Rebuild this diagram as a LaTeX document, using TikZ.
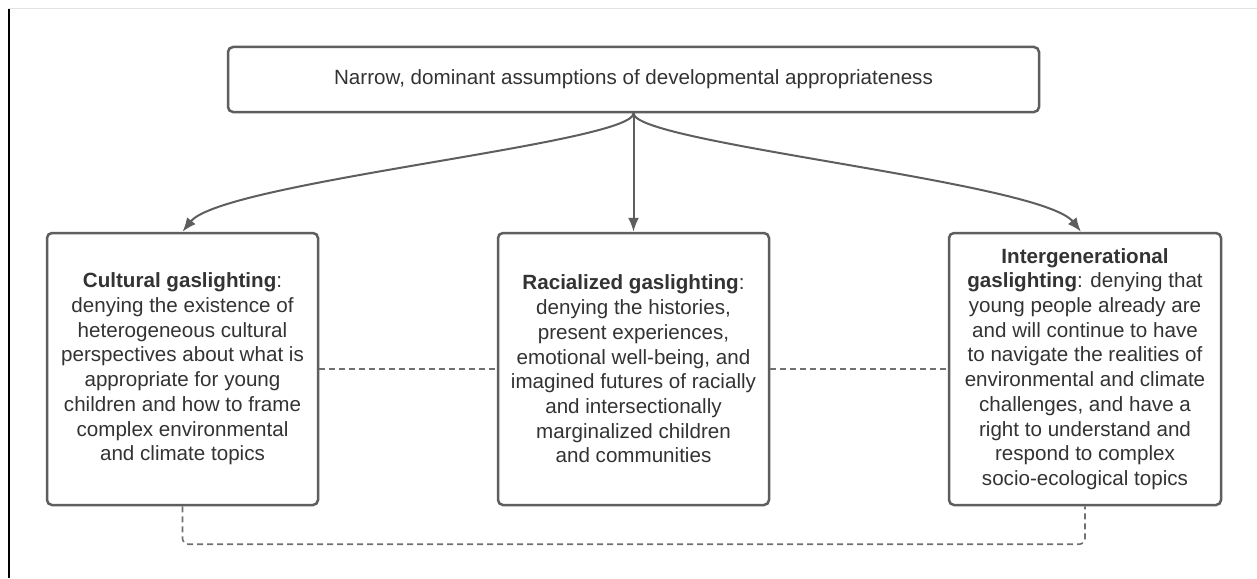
\documentclass[tikz,border=0pt]{standalone}
\usepackage{fontspec}
\setmainfont{Liberation Sans}
\usetikzlibrary{arrows.meta,calc}
\definecolor{boxline}{HTML}{5E5E5E}
\definecolor{txt}{HTML}{333333}
\definecolor{dashc}{HTML}{707070}
\definecolor{topline}{HTML}{E2E2E2}
\begin{document}
\begin{tikzpicture}[x=1pt,y=-1pt,
  box/.style={draw=boxline, line width=2.5pt, rounded corners=5pt, fill=white, inner sep=0pt, text=txt, align=center, font=\fontsize{20.6}{24.7}\selectfont},
  arr/.style={draw=boxline, line width=2pt, -{Latex[length=14pt,width=11pt]}},
  dsh/.style={draw=dashc, line width=1.6pt, dash pattern=on 6pt off 4pt}]
\useasboundingbox (0,0) rectangle (1257,578);
\fill[white] (0,0) rectangle (1257,578);
\draw[line width=1pt, topline] (8,9) -- (1257,9);
\draw[line width=2pt, black] (9,9.5) -- (9,578);

\node[box, minimum width=811pt, minimum height=65pt] (top) at (633.5,79.5)
  {Narrow, dominant assumptions of developmental appropriateness};

\node[box, minimum width=271pt, minimum height=272pt] (cult) at (182.5,369)
  {\textbf{Cultural gaslighting}:\\ denying the existence of\\ heterogeneous cultural\\ perspectives about what is\\ appropriate for young\\ children and how to frame\\ complex environmental\\ and climate topics};

\node[box, minimum width=271pt, minimum height=272pt] (race) at (633.5,369)
  {\textbf{Racialized gaslighting}:\\ denying the histories,\\ present experiences,\\ emotional well-being, and\\ imagined futures of racially\\ and intersectionally\\ marginalized children\\ and communities};

\node[box, minimum width=272pt, minimum height=272pt] (inter) at (1085,369)
  {\textbf{Intergenerational}\\ \textbf{gaslighting}: denying that\\ young people already are\\ and will continue to have\\ to navigate the realities of\\ environmental and climate\\ challenges, and have a\\ right to understand and\\ respond to complex\\ socio-ecological topics};

\draw[arr] (top.south) -- (race.north);
\draw[arr] (top.south) .. controls +(0,30) and +(40,-50) .. (cult.north);
\draw[arr] (top.south) .. controls +(0,30) and +(-40,-50) .. ($(inter.north)+(-4,0)$);

\draw[dsh] (cult.east) -- (race.west);
\draw[dsh] (race.east) -- (inter.west);
\draw[dsh, rounded corners=6pt] (cult.south) -- ++(0,38) -| (inter.south);
\end{tikzpicture}
\end{document}
